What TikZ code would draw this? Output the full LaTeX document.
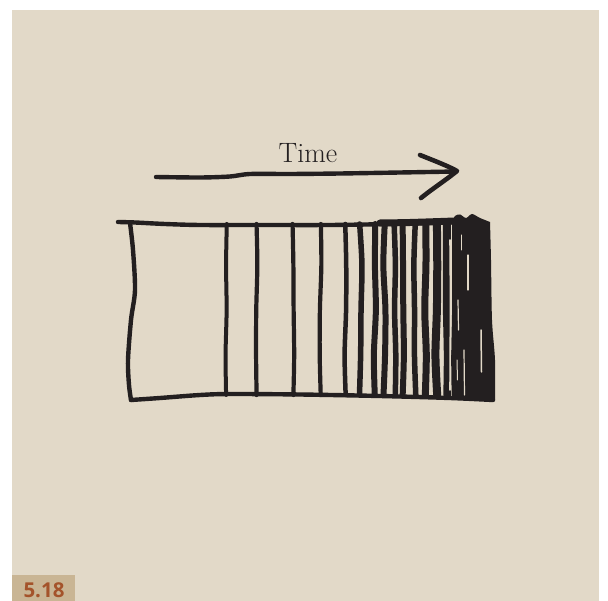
\documentclass[tikz,border=0pt]{standalone}
\usepackage{fontspec}
\newfontfamily\labelfont{Open Sans}
\definecolor{bg}{HTML}{E2D9C8}
\definecolor{tagbg}{HTML}{C9B594}
\definecolor{tagtext}{HTML}{A4532A}
\definecolor{inkc}{HTML}{231F20}
\begin{document}
\begin{tikzpicture}[x=1pt,y=-1pt,
  ink/.style={draw=inkc, line width=4.4pt, line cap=round, line join=round},
  streak/.style={draw=bg, line cap=round}]
\useasboundingbox (0,0) rectangle (608,601);
\fill[white] (0,0) rectangle (608,601);
\fill[bg] (12,10) rectangle (599,601);
\fill[tagbg] (12,575) rectangle (75,601);
\node[font=\labelfont\bfseries\fontsize{20.5}{24}\selectfont, text=tagtext, anchor=base, inner sep=0pt] (fig) at (44,597) {5.18};
\node[font=\fontsize{28}{30}\selectfont, text=inkc, anchor=base, inner sep=0pt] (time) at (308,163) {Time};
% arrow
\draw[ink] plot[smooth] coordinates {(156,177) (200,177.5) (230,176.5) (250,174) (290,174) (340,173.5) (400,172.5) (456,171.5)};
\draw[ink, line width=4.6pt] (420,155) .. controls (435,161) and (448,166) .. (457,171) .. controls (446,180) and (432,189) .. (421,198);
% box outline
\draw[ink] plot[smooth] coordinates {(118,222) (135,222.5) (165,224) (200,225) (260,225) (330,225) (390,224) (455,222)};
\draw[ink, line width=7pt] plot[smooth] coordinates {(380,223) (410,222.5) (455,221)};
\draw[ink] plot[smooth] coordinates {(130,223) (133,250) (135,290) (131,320) (128,360) (129,385) (131,400)};
\draw[ink] plot[smooth] coordinates {(131,400) (160,398) (200,395) (230,394) (300,394.5) (380,396) (450,398) (493,400)};
% vertical lines
\pgfmathsetseed{11}
\foreach \x/\w in {226/4, 257/4.2, 293/4.2, 320/4.2, 345/4.5, 360.5/5.5, 374.5/6, 384.5/6, 395/5.5, 402.5/6, 415/5.5, 425/7, 436.5/8, 446.5/8}{
  \pgfmathsetmacro\aa{\x+rand*1.2}
  \pgfmathsetmacro\bb{\x+rand*1.5}
  \pgfmathsetmacro\cc{\x+rand*1.5}
  \pgfmathsetmacro\dd{\x+rand*1.5}
  \pgfmathsetmacro\ee{\x+rand*1.2}
  \draw[ink, line width=\w pt] plot[smooth] coordinates {(\aa,224) (\bb,265) (\cc,310) (\dd,355) (\ee,395)};
}
% dense block
\fill[inkc] plot[smooth] coordinates {(452,222) (455,216) (460,214.5) (466,218) (472,214) (480,218) (490,222)}
  -- plot[smooth] coordinates {(490,222) (491,260) (492,320) (495,360) (495,400)}
  -- (452,400) -- cycle;
\draw[streak, line width=1.6pt] (450,240) -- (450.5,300) -- (450,390);
\draw[streak, line width=1.2pt] (458,300) -- (458.5,330);
\draw[streak, line width=1.2pt] (468,255) -- (468,290);
\draw[streak, line width=1.5pt] (481,330) -- (481.5,372);
\draw[streak, line width=1.2pt] (464,350) -- (464.5,395);
\draw[streak, line width=1pt] (461,235) -- (461,250);
\draw[streak, line width=1pt] (457,360) -- (457.5,380);
\end{tikzpicture}
\end{document}
